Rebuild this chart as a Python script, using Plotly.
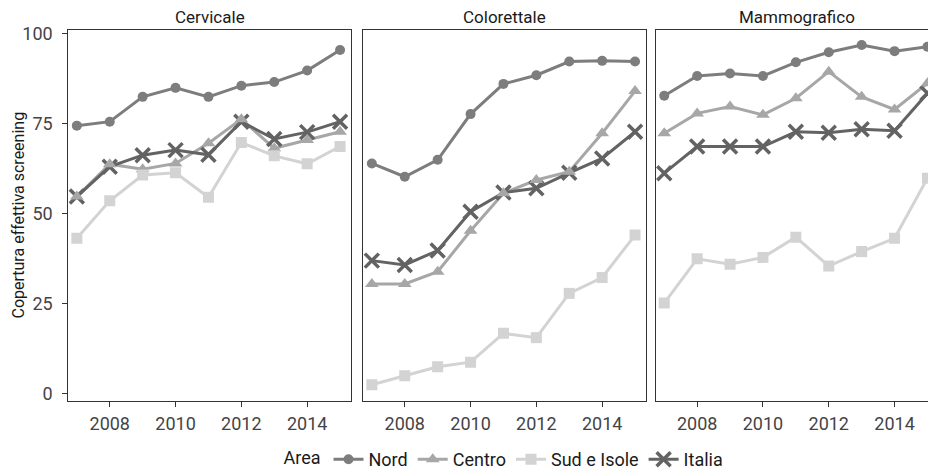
import plotly.graph_objects as go

# Screening coverage by area, 2007-2015
years = [2007, 2008, 2009, 2010, 2011, 2012, 2013, 2014, 2015]
panels = ["Cervicale", "Colorettale", "Mammografico"]
areas = ["Nord", "Centro", "Sud e Isole", "Italia"]

cervicale_nord = [74.4, 75.5, 82.4, 84.9, 82.4, 85.5, 86.5, 89.7, 95.4]
cervicale_centro = [54.7, 63.7, 62.3, 63.9, 69.5, 76.2, 68.1, 70.4, 72.7]
cervicale_sud = [43.1, 53.5, 60.7, 61.3, 54.5, 69.7, 66.0, 63.8, 68.6]
cervicale_italia = [54.7, 63.0, 66.2, 67.6, 66.3, 75.5, 70.7, 72.6, 75.5]

colorettale_nord = [63.9, 60.2, 64.9, 77.6, 86.0, 88.4, 92.2, 92.4, 92.2]
colorettale_centro = [30.4, 30.4, 33.8, 45.2, 55.6, 59.3, 61.6, 72.3, 84.0]
colorettale_sud = [2.4, 4.9, 7.4, 8.7, 16.7, 15.5, 27.8, 32.2, 44.0]
colorettale_italia = [36.9, 35.7, 39.7, 50.5, 55.8, 57.0, 61.3, 65.3, 72.7]

mammografico_nord = [82.7, 88.2, 88.9, 88.2, 92.0, 94.8, 96.8, 95.1, 96.3]
mammografico_centro = [72.3, 77.8, 79.7, 77.4, 82.0, 89.4, 82.4, 78.9, 86.2]
mammografico_sud = [25.1, 37.4, 35.9, 37.8, 43.4, 35.4, 39.4, 43.1, 59.8]
mammografico_italia = [61.2, 68.6, 68.6, 68.6, 72.7, 72.4, 73.4, 73.0, 83.4]

x_ticks = [2008, 2010, 2012, 2014]
y_ticks = [0, 25, 50, 75, 100]

series = {
    "Cervicale": [cervicale_nord, cervicale_centro, cervicale_sud, cervicale_italia],
    "Colorettale": [colorettale_nord, colorettale_centro, colorettale_sud, colorettale_italia],
    "Mammografico": [mammografico_nord, mammografico_centro, mammografico_sud, mammografico_italia],
}

FONT = "Liberation Sans Narrow, Arial Narrow, Roboto, sans-serif"
W, H = 928, 472
colors = {"Nord": "#7d7d7f", "Centro": "#a7a7a7", "Sud e Isole": "#d3d3d3", "Italia": "#636363"}
symbols = {"Nord": "circle", "Centro": "triangle-up", "Sud e Isole": "square", "Italia": "x-thin"}
sizes = {"Nord": 10, "Centro": 12, "Sud e Isole": 11, "Italia": 14}
# points are stacked in this order over the lines
point_order = ["Italia", "Nord", "Centro", "Sud e Isole"]

def marker(a):
    m = dict(symbol=symbols[a], size=sizes[a], color=colors[a])
    if a == "Italia":
        m["line"] = dict(width=3.5, color=colors[a])
    else:
        m["line"] = dict(width=0)
    return m

# panel geometry in pixels (left, right); the third panel runs off the page edge
px_panels = [(68.3, 351.0), (363.3, 646.0), (655.7, 938.7)]
top_px, bot_px = 30.0, 401.0
px_per_year = 32.9
x0 = 2006.74

fig = go.Figure()
for i, p in enumerate(panels):
    xa = "x" if i == 0 else f"x{i+1}"
    ya = "y" if i == 0 else f"y{i+1}"
    vals = dict(zip(areas, series[p]))
    for a in areas:
        fig.add_trace(go.Scatter(x=years, y=vals[a], mode="lines", xaxis=xa, yaxis=ya,
                                 line=dict(color=colors[a], width=3), showlegend=False,
                                 hoverinfo="skip"))
    for a in point_order:
        fig.add_trace(go.Scatter(x=years, y=vals[a], mode="markers", xaxis=xa, yaxis=ya,
                                 marker=marker(a), showlegend=False, name=a))

# legend entries
for a in areas:
    fig.add_trace(go.Scatter(x=[None], y=[None], mode="lines+markers", name=a,
                             line=dict(color=colors[a], width=3), marker=marker(a),
                             xaxis="x", yaxis="y", showlegend=True))

ydom = [1 - bot_px / H, 1 - top_px / H]
axis_common = dict(showgrid=False, zeroline=False, showline=True, linecolor="#333333",
                   linewidth=1, ticks="outside", ticklen=5, tickcolor="#333333",
                   tickfont=dict(family=FONT, size=18, color="#444444"))
layout = {}
for i, (l, r) in enumerate(px_panels):
    kx = "xaxis" if i == 0 else f"xaxis{i+1}"
    ky = "yaxis" if i == 0 else f"yaxis{i+1}"
    rr = min(r, W)
    xrange = [x0, x0 + (rr - l) / px_per_year]
    layout[kx] = dict(axis_common, domain=[l / W, rr / W], range=xrange,
                      tickvals=x_ticks, mirror=True, ticklabelstandoff=1,
                      anchor="y" if i == 0 else f"y{i+1}")
    layout[ky] = dict(axis_common, domain=ydom, range=[-2.1, 100.97], tickvals=y_ticks,
                      mirror=(i < 2), showticklabels=(i == 0),
                      ticks="outside" if i == 0 else "", ticklabelstandoff=6,
                      anchor="x" if i == 0 else f"x{i+1}")

annotations = []
for i, p in enumerate(panels):
    l, r = px_panels[i]
    annotations.append(dict(text=p, x=(l + r) / 2 / W, y=1 - 17 / H, xref="paper", yref="paper",
                            showarrow=False, xanchor="center", yanchor="middle",
                            font=dict(family=FONT, size=17, color="#1a1a1a")))
annotations.append(dict(text="Copertura effettiva screening", x=18 / W, y=1 - 215.5 / H,
                        xref="paper", yref="paper", showarrow=False, textangle=-90,
                        xanchor="center", yanchor="middle",
                        font=dict(family=FONT, size=16, color="#1a1a1a")))

fig.update_layout(
    width=W, height=H, margin=dict(l=0, r=0, t=0, b=0, autoexpand=False),
    paper_bgcolor="white", plot_bgcolor="white",
    annotations=annotations,
    legend=dict(orientation="h", x=505 / W, xanchor="center", y=-6 / H, yanchor="bottom",
                title=dict(text="Area", font=dict(family=FONT, size=18, color="#1a1a1a")),
                font=dict(family=FONT, size=18, color="#1a1a1a"), itemwidth=30,
                bgcolor="rgba(0,0,0,0)"),
    **layout,
)

fig.write_html("out.html")
